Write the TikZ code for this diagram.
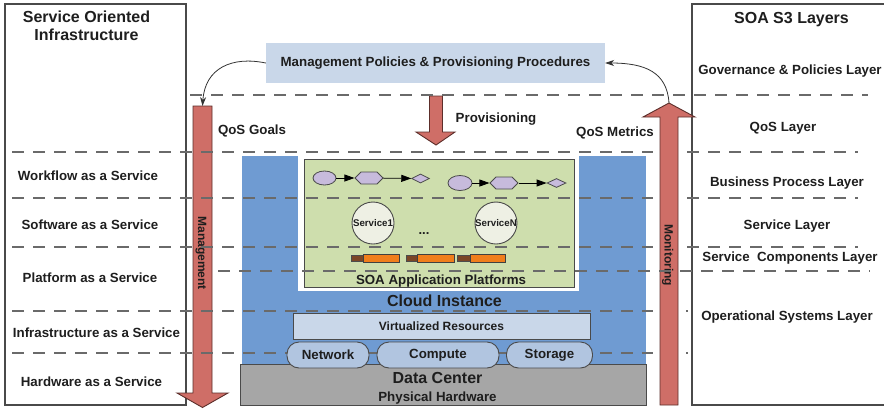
\documentclass[tikz,border=0pt]{standalone}
\usepackage{fontspec}
\setmainfont{Liberation Sans}
\usetikzlibrary{shapes.geometric,shapes.symbols,arrows.meta}

\definecolor{txt}{HTML}{1E1E1E}
\definecolor{framec}{HTML}{4A4A4A}
\definecolor{dashc}{HTML}{6A6A6A}
\definecolor{arrowred}{HTML}{CF6E67}
\definecolor{arrowedge}{HTML}{5C2E2A}
\definecolor{cloudblue}{HTML}{6F9BD2}
\definecolor{paleblue}{HTML}{C9D7E9}
\definecolor{pillblue}{HTML}{B1C5E0}
\definecolor{platgreen}{HTML}{CEDEAD}
\definecolor{dcgray}{HTML}{A6A6A6}
\definecolor{lavender}{HTML}{C7BBDC}
\definecolor{svcfill}{HTML}{EEF0E4}
\definecolor{compOrange}{HTML}{F07E1B}
\definecolor{compBrown}{HTML}{7B4626}

\begin{document}
\begin{tikzpicture}[x=1pt,y=-1pt,
  lbl/.style={font=\fontsize{13.3}{15}\selectfont\bfseries, text=txt, inner sep=0pt, text height=9.6pt, text depth=0pt},
  ttl/.style={font=\fontsize{16}{18}\selectfont\bfseries, text=txt, inner sep=0pt, text height=11.5pt, text depth=0pt},
  midlbl/.style={font=\fontsize{12}{14}\selectfont\bfseries, text=txt, inner sep=0pt, text height=8.6pt, text depth=0pt},
  svclbl/.style={font=\fontsize{9.7}{11}\selectfont\bfseries, text=txt, inner sep=0pt},
  frame/.style={draw=framec, line width=1.1pt},
  layerline/.style={draw=dashc, line width=1.3pt, dash pattern=on 12pt off 9pt},
  bigarrow/.style={fill=arrowred, draw=arrowedge, line width=0.9pt, line join=miter},
  boxnode/.style={draw=framec, line width=0.9pt, inner sep=0pt},
  flowshape/.style={draw=framec, fill=lavender, line width=0.8pt, inner sep=0pt},
  flowarrow/.style={draw=black, line width=0.8pt, -{Triangle[length=10pt,width=7pt]}},
  curvearrow/.style={draw=black!80, line width=0.8pt, -{Stealth[length=9pt,width=6pt]}},
  pill/.style={boxnode, fill=pillblue, rounded corners=12pt, minimum height=26pt,
    font=\fontsize{13.3}{15}\selectfont\bfseries, text=txt},
  plug/.style={draw=black!70, fill=compBrown, line width=0.5pt, minimum width=13pt, minimum height=5.5pt, inner sep=0pt},
  comp/.style={draw=black!75, fill=compOrange, line width=0.7pt, minimum height=8pt, inner sep=0pt}
]
\useasboundingbox (0,0) rectangle (884,408);

% outer frames for the two layer stacks
\draw[frame] (5,4) rectangle (186,405);
\draw[frame] (886,4) -- (692,4) -- (692,405) -- (886,405);

% cloud instance (U-shaped blue area) and data center base
\fill[cloudblue] (242,156) rectangle (646,364);
\fill[white] (298,150) rectangle (579,291);
\node[boxnode, fill=dcgray, minimum width=406pt, minimum height=41pt] (dc) at (443,384.5) {};

% SOA application platform container
\node[boxnode, fill=platgreen, minimum width=270pt, minimum height=128pt] (platform) at (439,223) {};

% management policies box
\node[fill=paleblue, minimum width=339pt, minimum height=40pt, inner sep=0pt,
      font=\fontsize{13.3}{15}\selectfont\bfseries, text=txt] (mgmt) at (435.5,63)
      {Management Policies \& Provisioning Procedures};

% big arrows
\filldraw[bigarrow] (193,106) -- (212,106) -- (212,393) -- (228,393) -- (202.5,407.5)
   -- (177,393) -- (193,393) -- cycle;
\coordinate (mgmtTop) at (202.5,106);
\filldraw[bigarrow] (660,405) -- (660,117) -- (643,117) -- (669,103) -- (695,117)
   -- (678,117) -- (678,405) -- cycle;
\coordinate (monTip) at (669,103);
\filldraw[bigarrow] (429.5,96) -- (442.5,96) -- (442.5,132) -- (455,132) -- (436,145)
   -- (416,132) -- (429.5,132) -- cycle;

\node[midlbl, rotate=-90] (mgmtlbl) at (202.5,253) {Management};
\node[midlbl, rotate=-90] (monlbl) at (669,255) {Monitoring};

% feedback curves
\draw[curvearrow] (mgmt.west) .. controls (232,56) and (205,68) .. (mgmtTop);
\draw[curvearrow] (monTip) .. controls (667,72) and (645,63) .. (mgmt.east);

% workflows
\node[flowshape, ellipse, minimum width=23pt, minimum height=14pt] (e1) at (324.5,178) {};
\node[flowshape, signal, signal to=east and west, signal from=nowhere, minimum width=28pt, minimum height=12pt] (h1) at (369,178) {};
\node[flowshape, diamond, minimum width=18pt, minimum height=9pt] (d1) at (420.5,178.5) {};
\draw[flowarrow] (e1) -- (h1);
\draw[flowarrow] (h1) -- (d1);

\node[flowshape, ellipse, minimum width=24pt, minimum height=15pt] (e2) at (460,183) {};
\node[flowshape, signal, signal to=east and west, signal from=nowhere, minimum width=28pt, minimum height=12pt] (h2) at (504,183) {};
\node[flowshape, diamond, minimum width=19pt, minimum height=9pt] (d2) at (556.5,183) {};
\draw[flowarrow] (e2) -- (h2);
\draw[flowarrow] (h2) -- (d2);

% services
\node[boxnode, circle, fill=svcfill, minimum size=42pt, svclbl] (s1) at (373,223) {Service1};
\node[boxnode, circle, fill=svcfill, minimum size=42pt, svclbl] (sn) at (496,223) {ServiceN};
\node[font=\fontsize{13}{15}\selectfont\bfseries, text=txt, inner sep=0pt, anchor=base] (dots) at (424,234) {...};

% service components
\node[plug] (p1) at (358,258) {};
\node[comp, minimum width=36pt] (c1) at (381,258) {};
\node[plug] (p2) at (412.5,258) {};
\node[comp, minimum width=36.5pt] (c2) at (435.7,258) {};
\node[plug] (p3) at (464,258) {};
\node[comp, minimum width=35pt] (c3) at (487.5,258) {};

\node[lbl] (platlbl) at (441,280) {SOA Application Platforms};
\node[ttl] (cloudlbl) at (444.5,301) {Cloud Instance};

% layer separators
\draw[layerline] (190,95) -- (868,95);
\foreach \yy in {152,198,247} {
  \draw[layerline] (12,\yy) -- (653,\yy);
  \draw[layerline] (687,\yy) -- (858,\yy);
}
\draw[layerline] (218,271) -- (870,271);
\foreach \yy in {311,353} {
  \draw[layerline] (12,\yy) -- (653,\yy);
  \draw[layerline] (686,\yy) -- (688,\yy);
}

% virtualized resources and physical pools
\node[boxnode, fill=paleblue, minimum width=297pt, minimum height=26pt, midlbl] (virt) at (441.5,326) {Virtualized Resources};
\node[pill, minimum width=82pt] (net) at (328,355) {Network};
\node[pill, minimum width=122pt] (cmp) at (438,355) {Compute};
\node[pill, minimum width=86pt] (sto) at (549.5,355) {Storage};

\node[ttl] (dclbl) at (437.5,378) {Data Center};
\node[lbl] (phys) at (437.5,397) {Physical Hardware};

% flow labels
\node[lbl] (goals) at (252,130) {QoS Goals};
\node[lbl] (prov) at (496,118) {Provisioning};
\node[lbl] (metrics) at (615,132) {QoS Metrics};

% left stack labels
\node[ttl, align=center, text height=, anchor=north] (soi) at (86.5,10.5) {Service Oriented\\Infrastructure};
\node[lbl] (wfaas) at (88,176) {Workflow as a Service};
\node[lbl] (saas) at (90,225) {Software as a Service};
\node[lbl] (paas) at (90,278) {Platform as a Service};
\node[lbl] (iaas) at (96.5,333) {Infrastructure as a Service};
\node[lbl] (haas) at (91.5,382) {Hardware as a Service};

% right stack labels
\node[ttl] (s3) at (791.5,18) {SOA S3 Layers};
\node[lbl] (gov) at (790,70) {Governance \& Policies Layer};
\node[lbl] (qosl) at (783,127) {QoS Layer};
\node[lbl] (bpl) at (787,182) {Business Process Layer};
\node[lbl] (svl) at (787,225) {Service Layer};
\node[lbl] (scl) at (790,257) {Service\ \ Components Layer};
\node[lbl] (osl) at (787,316) {Operational Systems Layer};
\end{tikzpicture}
\end{document}
